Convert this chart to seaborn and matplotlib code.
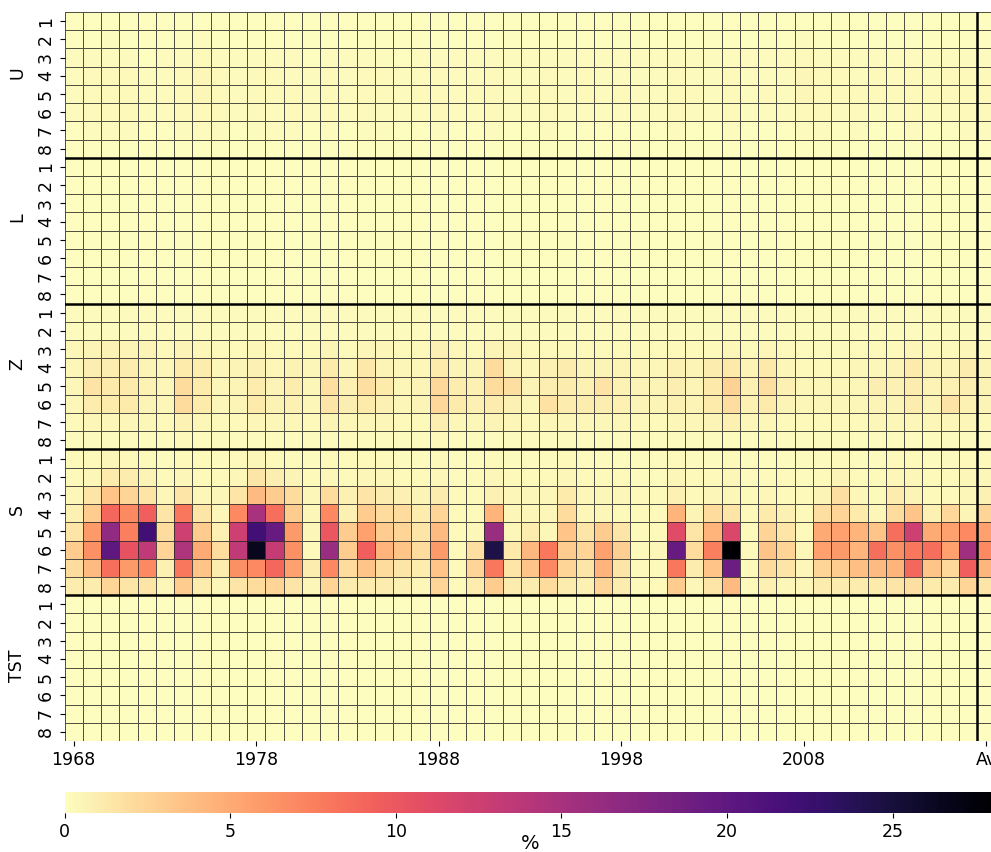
import numpy as np
import pandas as pd
import matplotlib
matplotlib.use("Agg")
import matplotlib.pyplot as plt
import seaborn as sns
from matplotlib.transforms import blended_transform_factory

# ---------------- data ----------------
years = [str(y) for y in range(1968, 2018)]
columns = years + ["Av"]
groups = ["U", "L", "Z", "S", "TST"]
levels = ["1", "2", "3", "4", "5", "6", "7", "8"]

U_rows = [
    [.1,.1,.1,.1,.1,.1,.1,.1,.1,.1, .1,.1,.1,.1,.1,.1,.1,.1,.1,.1, .1,.1,.1,.1,.1,.1,.1,.1,.1,.1, .1,.1,.1,.1,.1,.1,.1,.1,.1,.1, .1,.1,.1,.1,.1,.1,.1,.1,.1,.1, .1],
    [.1,.1,.2,.1,.1,.1,.1,.2,.1,.1, .1,.1,.1,.1,.1,.1,.1,.1,.1,.1, .1,.1,.1,.1,.1,.1,.1,.1,.1,.1, .1,.1,.1,.1,.1,.1,.1,.1,.1,.1, .2,.1,.1,.1,.1,.1,.1,.1,.1,.1, .1],
    [.2,.2,.2,.2,.1,.2,.2,.3,.2,.2, .2,.2,.2,.1,.2,.2,.2,.2,.1,.2, .2,.2,.2,.2,.2,.2,.2,.2,.2,.2, .2,.2,.2,.2,.2,.2,.2,.2,.2,.2, .3,.2,.2,.2,.2,.2,.2,.2,.2,.2, .2],
    [.2,.3,.3,.3,.2,.2,.3,.4,.3,.2, .3,.3,.2,.2,.3,.2,.3,.3,.2,.2, .3,.2,.2,.3,.2,.2,.3,.2,.3,.2, .2,.2,.2,.3,.2,.2,.3,.2,.2,.2, .4,.3,.3,.2,.3,.2,.3,.2,.3,.3, .3],
    [.2,.3,.3,.3,.2,.2,.3,.4,.3,.2, .3,.3,.3,.2,.3,.2,.3,.3,.2,.3, .3,.2,.3,.3,.2,.3,.3,.2,.3,.2, .3,.2,.2,.3,.3,.2,.3,.2,.3,.2, .4,.3,.3,.3,.3,.3,.3,.3,.3,.3, .3],
    [.2,.3,.3,.3,.2,.2,.3,.3,.3,.2, .3,.2,.3,.2,.3,.2,.3,.2,.2,.2, .3,.2,.2,.3,.2,.2,.3,.2,.2,.2, .2,.2,.2,.3,.2,.2,.3,.2,.2,.2, .3,.3,.2,.3,.2,.2,.3,.2,.2,.3, .3],
    [.1,.2,.2,.2,.1,.1,.2,.2,.2,.1, .2,.2,.2,.1,.2,.1,.2,.2,.1,.1, .2,.1,.1,.2,.1,.1,.2,.1,.1,.1, .1,.1,.1,.2,.1,.1,.2,.1,.1,.1, .2,.2,.1,.2,.1,.1,.2,.1,.1,.2, .2],
    [.1,.1,.1,.1,.1,.1,.1,.1,.1,.1, .1,.1,.1,.1,.1,.1,.1,.1,.1,.1, .1,.1,.1,.1,.1,.1,.1,.1,.1,.1, .1,.1,.1,.1,.1,.1,.1,.1,.1,.1, .1,.1,.1,.1,.1,.1,.1,.1,.1,.1, .1],
]

L_rows = [
    [.05,.05,.05,.05,.05,.05,.05,.05,.05,.05, .05,.05,.05,.05,.05,.05,.05,.05,.05,.05, .05,.05,.05,.05,.05,.05,.05,.05,.05,.05, .05,.05,.05,.05,.05,.05,.05,.05,.05,.05, .05,.05,.05,.05,.05,.05,.05,.05,.05,.05, .05],
    [.05,.05,.05,.05,.05,.05,.05,.05,.05,.05, .05,.05,.05,.05,.05,.05,.05,.05,.05,.05, .05,.05,.05,.05,.05,.05,.05,.05,.05,.05, .05,.05,.05,.05,.05,.05,.05,.05,.05,.05, .05,.05,.05,.05,.05,.05,.05,.05,.05,.05, .05],
    [.05,.05,.05,.05,.05,.05,.05,.05,.05,.05, .05,.05,.05,.05,.05,.05,.05,.05,.05,.05, .05,.05,.05,.05,.05,.05,.05,.05,.05,.05, .05,.05,.05,.05,.05,.05,.05,.05,.05,.05, .05,.05,.05,.05,.05,.05,.05,.05,.05,.05, .05],
    [.05,.05,.05,.05,.05,.05,.05,.05,.05,.05, .05,.05,.05,.05,.05,.05,.05,.05,.05,.05, .05,.05,.05,.05,.05,.05,.05,.05,.05,.05, .05,.05,.05,.05,.05,.05,.05,.05,.05,.05, .05,.05,.05,.05,.05,.05,.05,.05,.05,.05, .05],
    [.05,.05,.05,.05,.05,.05,.05,.05,.05,.05, .05,.05,.05,.05,.05,.05,.05,.05,.05,.05, .05,.05,.05,.05,.05,.05,.05,.05,.05,.05, .05,.05,.05,.05,.05,.05,.05,.05,.05,.05, .05,.05,.05,.05,.05,.05,.05,.05,.05,.05, .05],
    [.05,.05,.05,.05,.05,.05,.05,.05,.05,.05, .05,.05,.05,.05,.05,.05,.05,.05,.05,.05, .05,.05,.05,.05,.05,.05,.05,.05,.05,.05, .05,.05,.05,.05,.05,.05,.05,.05,.05,.05, .05,.05,.05,.05,.05,.05,.05,.05,.05,.05, .05],
    [.05,.05,.05,.05,.05,.05,.05,.05,.05,.05, .05,.05,.05,.05,.05,.05,.05,.05,.05,.05, .05,.05,.05,.05,.05,.05,.05,.05,.05,.05, .05,.05,.05,.05,.05,.05,.05,.05,.05,.05, .05,.05,.05,.05,.05,.05,.05,.05,.05,.05, .05],
    [.05,.05,.05,.05,.05,.05,.05,.05,.05,.05, .05,.05,.05,.05,.05,.05,.05,.05,.05,.05, .05,.05,.05,.05,.05,.05,.05,.05,.05,.05, .05,.05,.05,.05,.05,.05,.05,.05,.05,.05, .05,.05,.05,.05,.05,.05,.05,.05,.05,.05, .05],
]

Z_rows = [
    [.15,.15,.15,.15,.15,.15,.15,.15,.15,.15, .15,.15,.15,.15,.15,.15,.15,.15,.15,.15, .15,.15,.15,.15,.15,.15,.15,.15,.15,.15, .15,.15,.15,.15,.15,.15,.15,.15,.15,.15, .15,.15,.15,.15,.15,.15,.15,.15,.15,.15, .15],
    [.2,.2,.2,.2,.2,.2,.2,.2,.2,.2, .2,.2,.2,.2,.2,.2,.2,.2,.2,.2, .2,.2,.2,.2,.2,.2,.2,.2,.2,.2, .2,.2,.2,.2,.2,.2,.2,.2,.2,.2, .2,.2,.2,.2,.2,.2,.2,.2,.2,.2, .2],
    [.4,.6,.7,.6,.6,.3,.6,.5,.3,.3, .4,.3,.3,.3,.6,.3,.5,.4,.3,.3, .8,.4,.3,.6,.6,.3,.3,.3,.3,.3, .3,.3,.3,.3,.3,.3,.4,.3,.4,.3, .2,.2,.2,.3,.3,.3,.4,.3,.3,.4, .3],
    [.5,.9,1.0,1.0,.6,.4,1.2,1.0,.4,.6, .8,.5,.7,.4,1.2,.5,1.4,.6,.4,.5, 1.2,.6,.6,2.0,.6,.5,.8,1.0,.6,.6, .6,.5,.5,.8,.6,1.0,1.3,.6,1.3,.5, .3,.3,.3,.4,.5,.6,1.2,.6,.6,1.0, .6],
    [.5,1.6,1.3,1.2,.7,.5,2.0,1.2,.5,.6, 1.0,.6,1.0,.5,1.8,.8,1.8,1.2,.5,.6, 2.3,1.0,.8,2.0,1.8,.6,.9,1.0,.8,1.6, .7,.6,.6,.9,.6,1.3,2.7,.8,1.8,.8, .4,.4,.4,.4,.9,.8,1.0,.6,.8,.9, .7],
    [.5,1.0,1.2,1.2,.6,.4,2.0,1.2,.5,.6, 1.1,.7,.8,.5,1.5,.9,1.2,.8,.5,.6, 2.3,1.2,.8,1.0,.8,.5,1.7,1.0,1.0,.9, .8,.6,.6,.8,.6,1.1,1.9,.8,1.1,.6, .4,.4,.5,.4,.6,.6,1.0,.6,1.6,.8, .6],
    [.3,.5,.5,.5,.4,.3,.7,.5,.3,.3, .5,.4,.4,.3,.6,.4,.5,.4,.3,.3, .9,.5,.4,.6,.4,.3,.5,.4,.4,.4, .4,.3,.3,.4,.4,.6,.8,.4,.5,.3, .3,.3,.3,.3,.4,.4,.4,.4,.4,.4, .3],
    [.2,.2,.2,.2,.2,.2,.3,.2,.2,.2, .2,.2,.2,.2,.2,.2,.2,.2,.2,.2, .3,.2,.2,.2,.2,.2,.2,.2,.2,.2, .2,.2,.2,.2,.2,.2,.2,.2,.2,.2, .2,.2,.2,.2,.2,.2,.2,.2,.2,.2, .2],
]

S_rows = [
    [.3,.3,.4,.3,.3,.2,.3,.3,.2,.3, .4,.3,.3,.2,.3,.3,.3,.3,.2,.2, .3,.2,.2,.3,.2,.2,.2,.3,.2,.2, .2,.2,.2,.3,.2,.2,.3,.2,.2,.2, .2,.2,.3,.2,.2,.3,.3,.2,.2,.3, .3],
    [.3,.5,1.2,1.0,.6,.3,.4,.3,.3,.5, 1.5,.9,.6,.3,.5,.3,.4,.4,.3,.3, .4,.2,.3,.4,.3,.3,.3,.4,.3,.3, .3,.2,.2,.4,.3,.3,.4,.2,.3,.3, .2,.3,.6,.3,.3,.4,.4,.3,.3,.4, .4],
    [.5,1.5,3.5,2.5,1.5,.5,1.5,.5,.5,1.5, 4.0,3.0,2.0,.5,2.0,.8,1.5,1.0,.8,.6, 1.0,.3,.3,.8,.5,.5,.5,1.2,.4,.5, .4,.3,.3,.8,.3,.4,.5,.3,.4,.3, .3,.6,1.8,.5,.3,1.0,.6,.3,.3,.5, .8],
    [.8,3.0,9.0,7.0,9.5,1.5,8.0,1.5,.5,7.0, 15.0,8.5,3.0,.5,7.0,.8,3.0,2.0,2.0,1.0, 2.5,.3,.3,4.5,.4,.5,.5,2.0,.5,.5, .3,.3,.3,4.5,.6,2.0,1.5,.3,1.2,.8, .3,1.8,2.5,1.2,.5,2.0,3.5,.8,2.2,.6, 2.5],
    [1.5,6.0,16.5,7.5,22.0,2.0,12.5,3.0,.8,12.5, 22.0,19.5,6.0,.5,10.0,3.0,5.5,3.0,2.5,1.5, 4.0,.3,.5,16.0,.4,1.0,.5,3.5,1.5,3.0, 1.5,.3,.3,11.0,1.5,4.5,11.5,.3,2.5,1.5, .3,5.0,5.5,4.5,3.5,8.5,12.5,5.0,5.5,7.0, 5.5],
    [3.0,6.5,20.0,10.5,13.5,2.5,14.5,5.0,2.0,13.5, 26.5,13.0,6.5,.3,16.0,3.0,9.5,4.5,3.5,2.0, 6.0,.3,1.8,24.5,1.3,4.2,8.0,3.0,2.5,5.5, 2.8,.3,.5,19.5,2.0,7.5,28.1,.3,3.5,2.5, .5,5.5,6.0,4.5,8.5,6.5,8.0,8.5,5.5,15.5, 7.0],
    [2.0,4.0,8.5,6.0,7.0,.8,8.0,3.5,1.0,6.5, 7.0,9.0,5.5,1.0,7.0,2.0,3.5,2.0,1.5,1.0, 3.5,.3,2.5,8.0,1.5,3.5,7.0,2.5,1.5,4.5, 1.5,.3,.3,8.0,1.0,3.5,19.0,.3,2.0,1.5, .5,2.5,3.0,3.8,4.0,4.5,9.0,3.5,2.2,9.5, 4.3],
    [1.0,1.0,2.5,1.5,1.5,.5,3.0,1.0,.4,1.5, 2.0,2.5,1.5,.5,2.5,1.0,1.0,1.0,.8,.5, 2.5,.3,1.0,3.0,1.0,1.0,2.0,1.0,.8,2.5, 1.0,.3,.3,3.0,.5,1.5,4.0,.3,.8,.5, .4,1.0,1.0,1.0,1.2,1.5,1.8,1.2,1.0,2.5, 1.5],
]

TST_rows = [
    [0,0,0,0,0,0,0,0,0,0, 0,0,0,0,0,0,0,0,0,0, 0,0,0,0,0,0,0,0,0,0, 0,0,0,0,0,0,0,0,0,0, 0,0,0,0,0,0,0,0,0,0, 0],
    [0,0,0,0,0,0,0,0,0,0, 0,0,0,0,0,0,0,0,0,0, 0,0,0,0,0,0,0,0,0,0, 0,0,0,0,0,0,0,0,0,0, 0,0,0,0,0,0,0,0,0,0, 0],
    [0,0,0,0,0,0,0,0,0,0, 0,0,0,0,0,0,0,0,0,0, 0,0,0,0,0,0,0,0,0,0, 0,0,0,0,0,0,0,0,0,0, 0,0,0,0,0,0,0,0,0,0, 0],
    [0,0,0,0,0,0,0,0,0,0, 0,0,0,0,0,0,0,0,0,0, 0,0,0,0,0,0,0,0,0,0, 0,0,0,0,0,0,0,0,0,0, 0,0,0,0,0,0,0,0,0,0, 0],
    [0,0,0,0,0,0,0,0,0,0, 0,0,0,0,0,0,0,0,0,0, 0,0,0,0,0,0,0,0,0,0, 0,0,0,0,0,0,0,0,0,0, 0,0,0,0,0,0,0,0,0,0, 0],
    [0,0,0,0,0,0,0,0,0,0, 0,0,0,0,0,0,0,0,0,0, 0,0,0,0,0,0,0,0,0,0, 0,0,0,0,0,0,0,0,0,0, 0,0,0,0,0,0,0,0,0,0, 0],
    [0,0,0,0,0,0,0,0,0,0, 0,0,0,0,0,0,0,0,0,0, 0,0,0,0,0,0,0,0,0,0, 0,0,0,0,0,0,0,0,0,0, 0,0,0,0,0,0,0,0,0,0, 0],
    [0,0,0,0,0,0,0,0,0,0, 0,0,0,0,0,0,0,0,0,0, 0,0,0,0,0,0,0,0,0,0, 0,0,0,0,0,0,0,0,0,0, 0,0,0,0,0,0,0,0,0,0, 0],
]

# ---------------- build table ----------------
all_rows = U_rows + L_rows + Z_rows + S_rows + TST_rows
row_index = [f"{g}-{lv}" for g in groups for lv in levels]
df = pd.DataFrame(np.array(all_rows, dtype=float), index=row_index, columns=columns)

# ---------------- figure ----------------
W, H = 991, 852
fig = plt.figure(figsize=(W / 100, H / 100), dpi=100)
ax = fig.add_axes([64.5 / W, 111 / H, 930.75 / W, 729 / H])
cax = fig.add_axes([64.5 / W, 38.7 / H, 930.75 / W, 21.6 / H])

sns.heatmap(
    df, ax=ax, cbar_ax=cax, cmap="magma_r", vmin=0, vmax=float(df.values.max()),
    linewidths=0.45, linecolor=(0.15, 0.15, 0.15, 0.8),
    xticklabels=10, yticklabels=levels * len(groups),
    cbar_kws={"orientation": "horizontal"},
)

# group separators
for k in range(1, len(groups)):
    ax.axhline(k * len(levels), color="black", lw=1.8)
ax.axvline(len(years), color="black", lw=1.8)

ax.tick_params(axis="both", labelsize=12.5)
for t in ax.get_xticklabels():
    t.set_rotation(0)
for t in ax.get_yticklabels():
    t.set_rotation(90)
    t.set_va("center")
ax.set_xlabel("")
ax.set_ylabel("")

# group labels on the left
trans = blended_transform_factory(fig.transFigure, ax.transData)
for k, g in enumerate(groups):
    ax.text(17 / W, k * len(levels) + 3, g, transform=trans, rotation=90,
            ha="center", va="top", fontsize=12.5)

# colorbar
cax.tick_params(labelsize=12.5)
cax.set_xlabel("%", fontsize=14)
cax.xaxis.set_label_coords(0.5, -0.98)
cax.xaxis.label.set_va("top")
for sp in cax.spines.values():
    sp.set_edgecolor("#444444")

fig.savefig("out.png", dpi=100)
